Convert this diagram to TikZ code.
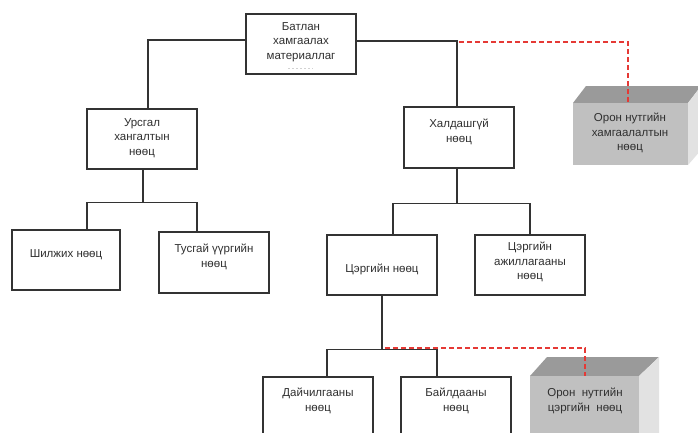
\documentclass[tikz,border=0pt]{standalone}
\usepackage{fontspec}
\setmainfont{Liberation Sans}
\definecolor{linec}{HTML}{333333}
\definecolor{textc}{HTML}{303030}
\definecolor{redc}{HTML}{E53935}
\definecolor{topc}{HTML}{9A9A9A}
\definecolor{frontc}{HTML}{C0C0C0}
\definecolor{sidec}{HTML}{E2E2E2}
\begin{document}
\begin{tikzpicture}[x=1pt,y=-1pt,
  box/.style={draw=linec, line width=1.1pt, minimum width=110pt, minimum height=60pt, inner sep=0pt},
  txt/.style={font=\fontsize{11.5}{14.5}\selectfont, align=center, text=textc, inner sep=0pt},
  conn/.style={draw=linec, line width=1.1pt},
  reddash/.style={draw=redc, line width=1.3pt, dash pattern=on 5pt off 3pt}]
\useasboundingbox (0,0) rectangle (698,432);
\clip (0,0) rectangle (698,432);
\fill[white] (0,0) rectangle (698,432);

% boxes
\node[box] (A) at (301,44) {};
\node[box] (B) at (142,139) {};
\node[box, minimum height=61pt] (C) at (459,137.5) {};
\node[box, minimum width=108pt] (D) at (66,260) {};
\node[box, minimum height=61pt] (E) at (214,262.5) {};
\node[box] (F) at (382,265) {};
\node[box] (G) at (530,265) {};
\node[box] (H) at (318,407) {};
\node[box] (I) at (456,407) {};

% texts
\node[txt] (At) at (301,42) {Батлан\\хамгаалах\\материаллаг};
\draw[gray!35, dash pattern=on 2pt off 2pt, line width=0.6pt] (288,68) -- (313,68);
\node[txt] (Bt) at (142,138) {Урсгал\\хангалтын\\нөөц};
\node[txt] (Ct) at (459,132) {Халдашгүй\\нөөц};
\node[txt] (Dt) at (66,255) {Шилжих нөөц};
\node[txt] (Et) at (214,257) {Тусгай үүргийн\\нөөц};
\node[txt] (Ft) at (382,269) {Цэргийн нөөц};
\node[txt] (Gt) at (530,262) {Цэргийн\\ажиллагааны\\нөөц};
\node[txt] (Ht) at (318,401) {Дайчилгааны\\нөөц};
\node[txt] (It) at (456,401) {Байлдааны\\нөөц};

% connectors
\draw[conn] ([yshift=4pt]A.west) -| ([xshift=6pt]B.north);
\draw[conn] ([yshift=3pt]A.east) -| ([xshift=-2pt]C.north);
\draw[conn] ([xshift=1pt]B.south) -- ++(0,33) coordinate (bj);
\draw[conn] ([xshift=21pt]D.north) |- (bj) -| ([xshift=-17pt]E.north);
\draw[conn] ([xshift=-2pt]C.south) -- ++(0,35) coordinate (cj);
\draw[conn] ([xshift=11pt]F.north) |- (cj) -| (G.north);
\draw[conn] (F.south) -- ++(0,54) coordinate (fj);
\draw[conn] ([xshift=9pt]H.north) |- (fj) -| ([xshift=-19pt]I.north);

% cubes
\fill[topc] (573,103) -- (586,86) -- (701,86) -- (688,103) -- cycle;
\fill[sidec] (688,103) -- (701,86) -- (701,150) -- (688,165) -- cycle;
\fill[frontc] (573,103) rectangle (688,165);
\fill[topc] (530,376) -- (547,357) -- (659,357) -- (639,376) -- cycle;
\fill[sidec] (639,376) -- (659,357) -- (659,440) -- (639,440) -- cycle;
\fill[frontc] (530,376) rectangle (639,440);
\coordinate (c1) at (628,104);
\coordinate (c2) at (585,376);
\coordinate (r1) at (459,42);
\node[txt] (K1) at (630,133) {Орон нутгийн\\хамгаалалтын\\нөөц};
\node[txt] (K2) at (585,401) {Орон~ нутгийн\\цэргийн~ нөөц};

% red dashed links
\draw[reddash] (r1) -| (c1);
\draw[reddash] ([xshift=3pt,yshift=1.5pt]fj) -| (c2);
\end{tikzpicture}
\end{document}
